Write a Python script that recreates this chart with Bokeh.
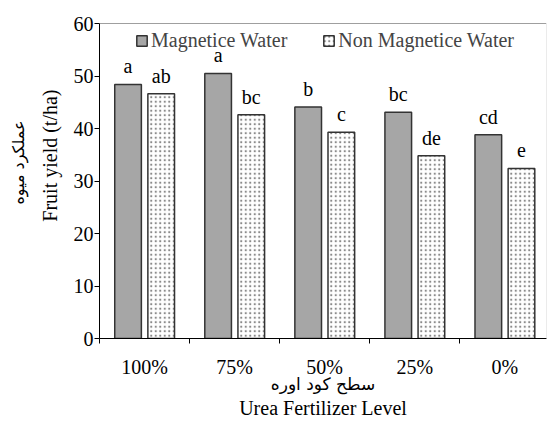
from bokeh.plotting import figure
from bokeh.models import (Range1d, FixedTicker, Span, Title, Legend, LegendItem,
                          ColumnDataSource)
from bokeh.transform import dodge
from bokeh.core.properties import value
from bokeh.embed import file_html
from bokeh.resources import INLINE

# ---- data ----
levels = ["100%", "75%", "50%", "25%", "0%"]
magnetic = [48.4, 50.5, 44.1, 43.1, 38.8]
non_magnetic = [46.6, 42.6, 39.3, 34.8, 32.4]
letters_mag = ["a", "a", "b", "bc", "cd"]
letters_non = ["ab", "bc", "c", "de", "e"]
series_names = ["Magnetice Water", "Non Magnetice Water"]
y_ticks = [0, 10, 20, 30, 40, 50, 60]
x_title_fa = "سطح کود اوره"
x_title_en = "Urea Fertilizer Level"
y_title_fa = "عملکرد میوه"
y_title_en = "Fruit yield (t/ha)"

xc = [i + 0.5 for i in range(len(levels))]
src = ColumnDataSource(dict(x=xc, mag=magnetic, non=non_magnetic,
                            lm=letters_mag, ln=letters_non))

SERIF = "Liberation Serif"
FS = "20px"
ARAB = "DejaVu Sans"
X_END = 4.963

p = figure(width=547, height=423, output_backend="svg", toolbar_location=None,
           x_range=Range1d(0, X_END), y_range=Range1d(0, 60),
           min_border_left=99, min_border_right=1, min_border_top=23,
           min_border_bottom=85)
p.xgrid.visible = False
p.ygrid.visible = False
p.outline_line_color = None
p.background_fill_color = "white"

# y axis
p.yaxis.ticker = FixedTicker(ticks=y_ticks)
p.yaxis.major_tick_out = 5
p.yaxis.major_tick_in = 0
p.yaxis.minor_tick_out = 0
p.yaxis.minor_tick_in = 0
p.yaxis.major_label_standoff = 1
p.yaxis.axis_line_color = "black"
p.yaxis.major_tick_line_color = "black"

# x axis: labels at centres, ticks at category boundaries (minor ticks)
p.xaxis.ticker = FixedTicker(ticks=xc, minor_ticks=list(range(len(levels) + 1)))
p.xaxis.major_label_overrides = {v: lab for v, lab in zip(xc, levels)}
p.xaxis.major_tick_out = 0
p.xaxis.major_tick_in = 0
p.xaxis.minor_tick_out = 5
p.xaxis.minor_tick_in = 0
p.xaxis.minor_tick_line_color = "black"
p.xaxis.major_label_standoff = 12
p.xaxis.axis_line_color = "black"
# Persian x title as the axis label
p.xaxis.axis_label = x_title_fa
p.xaxis.axis_label_text_font = ARAB
p.xaxis.axis_label_text_font_size = "17px"
p.xaxis.axis_label_text_font_style = "normal"
p.xaxis.axis_label_text_color = "black"
p.xaxis.axis_label_standoff = -7

for ax in (p.xaxis, p.yaxis):
    ax.major_label_text_font = SERIF
    ax.major_label_text_font_size = FS
    ax.major_label_text_color = "black"

# bars
r_mag = p.vbar(x=dodge("x", -0.183, range=p.x_range), top="mag", width=0.296,
               source=src, fill_color="#a6a6a6", line_color="#333333", line_width=1.5)
r_non = p.vbar(x=dodge("x", 0.185, range=p.x_range), top="non", width=0.296,
               source=src, fill_color="white", line_color="#333333", line_width=1.5,
               hatch_pattern="dot", hatch_color="#8a8a8a", hatch_scale=4.5,
               hatch_weight=1)

# significance letters
p.text(x=dodge("x", -0.183, range=p.x_range), y="mag", text="lm", source=src,
       text_align="center", text_baseline="alphabetic", y_offset=-18,
       text_font=value(SERIF), text_font_size=value(FS), text_color="black")
p.text(x=dodge("x", 0.185, range=p.x_range), y="non", text="ln", source=src,
       text_align="center", text_baseline="alphabetic", y_offset=-18,
       text_font=value(SERIF), text_font_size=value(FS), text_color="black")

# frame lines
p.add_layout(Span(location=60, dimension="width", line_color="#404040", line_width=1.2))
p.add_layout(Span(location=X_END, dimension="height", line_color="#d8d8d8", line_width=1))

# legend
legend = Legend(items=[LegendItem(label=series_names[0], renderers=[r_mag]),
                       LegendItem(label=series_names[1], renderers=[r_non])],
                orientation="horizontal", location=(36, 286), padding=0, margin=0,
                border_line_color=None, background_fill_alpha=0,
                glyph_width=13, glyph_height=13, label_standoff=3, spacing=35,
                label_text_font=SERIF, label_text_font_size=FS)
p.add_layout(legend)

# axis titles
p.add_layout(Title(text=x_title_en, align="center", vertical_align="top",
                   text_font=SERIF, text_font_size=FS, text_font_style="normal",
                   text_color="black", standoff=0), "below")
p.add_layout(Title(text=y_title_en, align="right", vertical_align="middle",
                   offset=66, text_font=SERIF, text_font_size=FS,
                   text_font_style="normal", text_color="black", standoff=17), "left")
p.add_layout(Title(text=y_title_fa, align="right", offset=97, text_font=ARAB,
                   text_font_size="16px", text_font_style="normal",
                   text_color="black", standoff=3), "left")

open("out.html", "w").write(file_html(p, INLINE))
